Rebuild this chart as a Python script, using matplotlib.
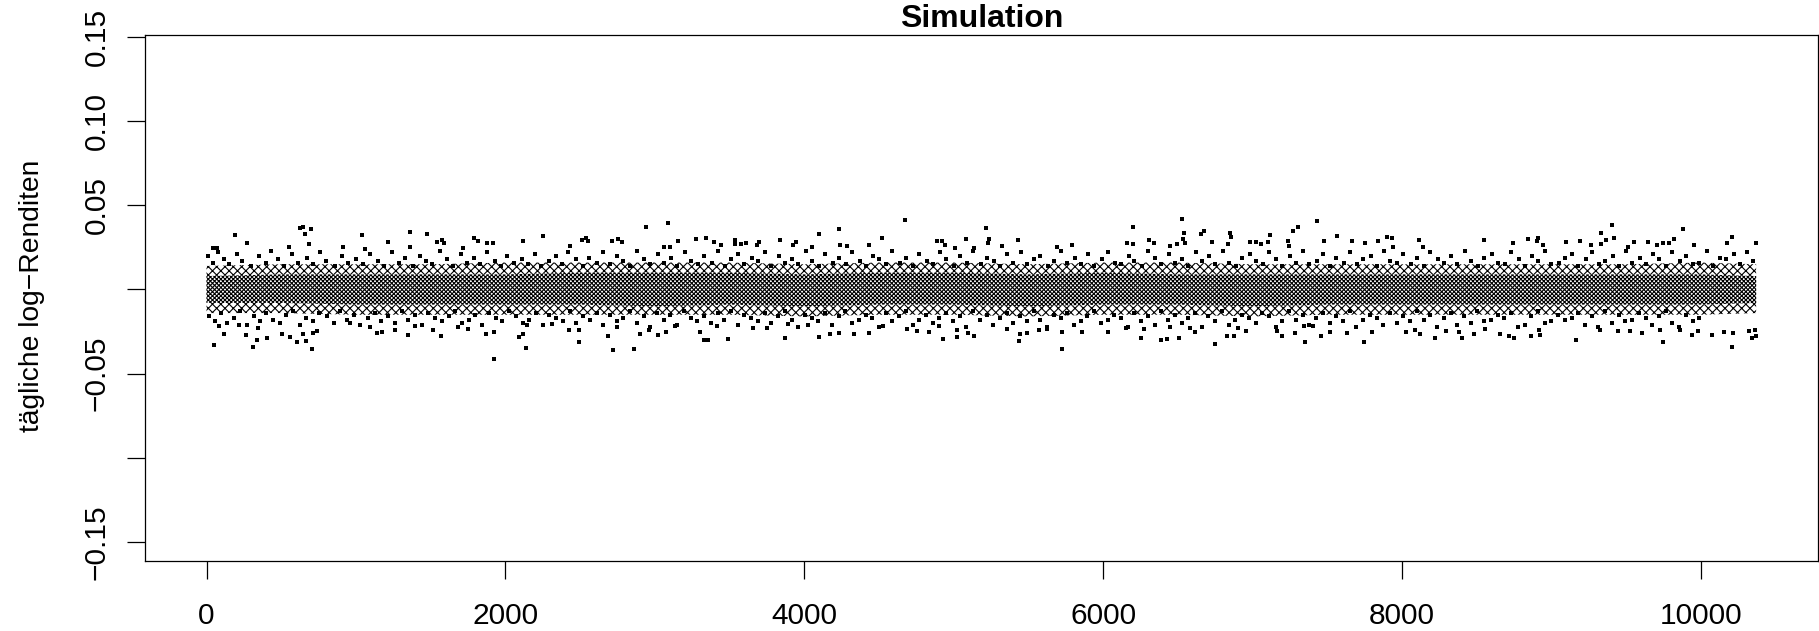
import numpy as np
import matplotlib
matplotlib.use('Agg')
import matplotlib.pyplot as plt

plt.rcParams['font.family'] = ['Liberation Sans', 'DejaVu Sans']
plt.rcParams['hatch.linewidth'] = 0.8

top_x = [190,648,625,699,659,1042,1363,1477,2253,688,268,1216,1540,1573,1589,1792,1818,1878,1919,2119,554,911,1060,1361,1718,41,72,
         2943,3091,4676,4101,4235,4522,2538,2511,2555,2716,2756,2778,3158,3278,3345,3398,3445,3539,3539,3579,3612,3699,3686,3840,3947,3927,4054,4241,4288,4435,4890,4924,4944,5080,5006,2435,3064,3102,
         5218,6202,6530,7433,7306,7272,6543,6677,6657,6851,6857,7118,7566,7897,5238,5432,6536,6309,5232,6550,6342,6162,6202,6726,6984,7025,7058,7105,7239,7479,7667,7841,7754,5789,5693,5321,5138,6447,6496,6837,7245,
         9407,9882,9334,10210,8912,8845,9421,9367,9822,8116,8551,8906,7931,8745,9095,9193,9555,9648,9749,9789,10369,10177,8946,9267,9334,9514,9956,9708,8143,7942]
top_y = [32.4,37.3,36.4,35.8,32.8,32.2,34,32.8,31.8,26.8,27.4,28,28.4,29.4,27.4,30.4,28.8,27.4,27.4,28.6,25,25,24,25,24.5,24.5,24.5,
         37,39.3,41.1,32.8,35.8,30.8,30.8,29.2,28.6,28.6,29.8,28.2,28.6,29.8,30.4,28,26.2,29.2,26.8,26.8,27.4,28,26.2,29.2,28,26.2,25,26.2,25.6,26.2,28.6,28.6,26.2,29.8,24.5,26,25.4,25.2,
         36.3,37,41.7,40.5,37,34.6,33.4,34.6,32.8,33.4,31,32.2,31.6,31,29.8,29.2,29.8,29.2,27.4,27.4,27.4,27.8,26.8,28,28,28,26.8,28,28.6,28.6,28.6,28.6,27.4,26.2,25.4,25.6,24.5,26,26.8,26.8,25.6,
         38.1,35.8,33.4,31,30.8,29.8,30.4,29.2,30,29.2,29.2,28.6,30.4,27.4,28,28.6,28,28,27.4,27.4,27.4,27.4,26.2,26.2,26.8,25,26.2,26.2,25,25.4]
low_x = [52,313,708,1923,2139,119,262,340,407,507,558,607,663,643,714,741,86,219,347,1138,1176,1350,1566,1870,1925,2093,2119,960,1094,1261,1395,1517,1685,1751,2142,
         2495,2723,2863,2689,2495,2428,2903,2963,3024,3077,3331,3358,3492,3305,3659,3753,3871,4101,4174,4235,4335,4435,4690,4756,4837,4930,5020,5020,5098,4904,4529,2315,2749,3137,3414,3893,4027,
         5727,5439,6750,7352,7747,6389,6429,6509,6255,5138,5446,5493,5727,5861,6034,6616,6831,6877,6958,7198,7285,7460,7520,7629,7801,5573,5359,5626,6155,6275,6447,6581,6904,7161,7346,7406,
         10210,9749,9167,8223,8404,8752,8123,8029,8089,8297,8384,8484,8658,8718,8866,8926,8919,8558,9327,9448,9528,9608,9729,9862,9943,9983,10076,10157,10217,10319,10339,10366,10364]
low_y = [-33.2,-34.4,-35.5,-41.5,-35,-26.6,-27.2,-30.2,-29,-26.6,-28.4,-31.4,-30.6,-26.6,-26,-24.5,-21.9,-21.3,-23,-26,-25.5,-27.2,-27.8,-26.6,-25.5,-28.4,-26.6,-20,-22.5,-24,-21.7,-24,-22.5,-23.7,-21,
         -31.4,-36.1,-35.5,-27.8,-24,-24.3,-26.6,-24.3,-27.2,-25.5,-30.2,-30.2,-29.6,-25.5,-23,-23,-28.6,-28.4,-26.6,-26,-26.6,-26,-23.7,-24.9,-25.5,-29.6,-28.4,-24.3,-26,-21.9,-21.7,-20.7,-22.5,-21.9,-21.9,-20.7,-21.3,
         -35.5,-30.8,-32.6,-31.4,-31.4,-30.2,-29.6,-29,-29,-27.8,-26.6,-26,-25.5,-25.5,-25.5,-25.5,-27.8,-27.8,-24.9,-27.8,-26,-27.8,-25.5,-26,-25.5,-24.3,-23.7,-23.7,-23,-23.7,-22.5,-23,-23,-24.9,-21.7,-21.7,
         -34.4,-31.4,-30.2,-29,-29,-29,-26.6,-25.5,-24.3,-24.9,-25.5,-26.6,-26.6,-27.8,-27.8,-27.2,-24.3,-23.7,-24.3,-24.9,-24.9,-26,-24.3,-24.3,-27.2,-24.9,-27.2,-25.5,-26,-24.9,-29,-27.8,-24.3]

# shoulders of the band, rough estimates by eye, thousandths
upper_x = [10,45,80,120,150,205,240,300,350,395,430,480,520,575,610,670,710,760,800,860,905,950,1000,1050,1095,1150,1190,1240,1290,1330,1385,1430,1470,1510,1560,1610,1650,1700,1745,1790,1830,1880,1930,1970,2010,2060,2110,2150,2200,2240,2290,2340,2380,2420,2470,2520,2560,2610,2650,2700,2745,2790,2835,2880,2930,2970,3020,3060,3110,3150,3200,3240,3290,3330,3380,3420,3470,3510,3560,3600,3650,3690,3740,3780,3830,3870,3920,3960,4010,4050,4100,4140,4190,4230,4280,4320,4370,4410,4460,4500,4550,4590,4640,4680,4730,4770,4820,4860,4910,4950,5000,5040,5090,5130,5180,5220,5270,5310,5360,5400,5450,5490,5540,5580,5630,5670,5720,5760,5810,5850,5900,5940,5990,6030,6080,6120,6170,6210,6260,6300,6350,6390,6440,6480,6530,6570,6620,6660,6710,6750,6800,6840,6890,6930,6980,7020,7070,7110,7160,7200,7250,7290,7340,7380,7430,7470,7520,7560,7610,7650,7700,7740,7790,7830,7880,7920,7970,8010,8060,8100,8150,8190,8240,8280,8330,8370,8420,8460,8510,8550,8600,8640,8690,8730,8780,8820,8870,8910,8960,9000,9050,9090,9140,9180,9230,9270,9320,9360,9410,9450,9500,9540,9590,9630,9680,9720,9770,9810,9860,9900,9950,9990,10040,10080,10130,10170,10220,10260,10310,10350]
upper_y = [20,16,22,18,15,21,17,14,20,16,23,18,14,21,16,19,15,22,17,14,20,16,18,15,21,17,14,22,16,19,14,20,17,15,23,18,14,21,16,19,15,22,17,14,20,16,18,15,21,14,17,20,15,22,18,14,19,16,22,15,20,17,14,23,18,15,21,16,19,14,22,17,15,20,16,23,14,18,21,15,19,17,22,14,20,16,18,15,23,17,14,21,16,19,15,22,17,14,20,18,15,23,16,19,14,21,17,15,22,18,14,20,16,23,15,19,17,14,21,16,22,15,18,20,14,17,23,16,19,15,21,14,18,22,16,15,20,17,14,23,19,15,21,16,18,14,22,17,20,15,23,16,14,19,21,17,15,22,18,14,20,16,23,15,17,21,14,19,16,22,15,18,20,14,23,17,16,21,15,19,14,22,18,16,20,15,23,17,14,19,21,16,15,22,18,14,20,17,23,15,16,19,21,14,18,22,15,17,20,14,23,16,19,15,21,18,14,22,17,20,15,16,23,14,19,18,21,15,22,17,14,20,16,23,15,19,21]
lower_x = [20,60,100,140,185,225,270,315,360,400,445,490,535,580,625,665,715,755,805,850,895,940,990,1030,1080,1125,1170,1215,1260,1305,1350,1395,1440,1485,1530,1575,1620,1665,1710,1755,1800,1845,1890,1935,1980,2025,2070,2115,2160,2205,2250,2295,2340,2385,2430,2475,2520,2565,2610,2655,2700,2745,2790,2835,2880,2925,2970,3015,3060,3105,3150,3195,3240,3285,3330,3375,3420,3465,3510,3555,3600,3645,3690,3735,3780,3825,3870,3915,3960,4005,4050,4095,4140,4185,4230,4275,4320,4365,4410,4455,4500,4545,4590,4635,4680,4725,4770,4815,4860,4905,4950,4995,5040,5085,5130,5175,5220,5265,5310,5355,5400,5445,5490,5535,5580,5625,5670,5715,5760,5805,5850,5895,5940,5985,6030,6075,6120,6165,6210,6255,6300,6345,6390,6435,6480,6525,6570,6615,6660,6705,6750,6795,6840,6885,6930,6975,7020,7065,7110,7155,7200,7245,7290,7335,7380,7425,7470,7515,7560,7605,7650,7695,7740,7785,7830,7875,7920,7965,8010,8055,8100,8145,8190,8235,8280,8325,8370,8415,8460,8505,8550,8595,8640,8685,8730,8775,8820,8865,8910,8955,9000,9045,9090,9135,9180,9225,9270,9315,9360,9405,9450,9495,9540,9585,9630,9675,9720,9765,9810,9855,9900,9945,9990,10035,10080,10125,10170,10215,10260,10305,10350]
lower_y = [-16,-19,-14,-20,-17,-13,-21,-16,-19,-14,-18,-20,-15,-13,-21,-17,-19,-14,-16,-20,-13,-18,-15,-21,-17,-14,-19,-16,-20,-13,-18,-15,-21,-14,-17,-19,-16,-13,-20,-18,-15,-21,-14,-17,-19,-13,-16,-20,-18,-14,-21,-15,-17,-19,-13,-20,-16,-18,-14,-21,-15,-19,-17,-13,-20,-16,-22,-14,-18,-15,-21,-13,-17,-19,-16,-20,-14,-18,-13,-21,-15,-17,-19,-14,-20,-16,-13,-18,-22,-15,-17,-19,-14,-21,-16,-13,-20,-18,-15,-17,-22,-14,-19,-16,-13,-21,-18,-15,-20,-17,-14,-19,-16,-22,-13,-18,-15,-21,-17,-14,-20,-16,-19,-13,-18,-22,-15,-17,-14,-21,-19,-16,-13,-20,-18,-15,-17,-22,-14,-19,-16,-21,-13,-18,-15,-20,-17,-14,-22,-16,-19,-13,-21,-18,-15,-17,-20,-14,-16,-22,-19,-13,-18,-15,-21,-17,-14,-20,-16,-19,-13,-22,-18,-15,-17,-21,-14,-20,-16,-19,-13,-18,-15,-22,-17,-14,-21,-16,-20,-13,-19,-18,-15,-17,-14,-22,-21,-16,-13,-20,-19,-15,-18,-17,-14,-21,-16,-22,-13,-20,-15,-19,-18,-14,-17,-21,-16,-13,-20,-22,-15,-19,-17]

# edges of the band read every 500 days: dense core and the looser ring round it
band_x = [0,500,1000,1500,2000,2500,3000,3500,4000,4500,5000,5500,6000,6500,7000,7500,8000,8500,9000,9500,10000,10370]
core_hi = [8,9,9,9,9,10,10,10,9,10,10,9,10,9,9,9,9,9,9,9,9,8]
core_lo = [-8,-8,-9,-9,-9,-9,-10,-9,-10,-9,-9,-10,-9,-9,-10,-9,-9,-9,-9,-9,-9,-8]
ring_hi = [14,15,15,15,16,16,16,16,15,16,16,15,16,16,15,15,15,15,15,15,16,15]
ring_lo = [-14,-14,-15,-15,-15,-15,-15,-15,-16,-15,-15,-16,-15,-15,-16,-15,-15,-15,-15,-15,-15,-14]

x_ticks = [0,2000,4000,6000,8000,10000]
y_ticks = [0.15,0.10,0.05,0,-0.05,-0.10,-0.15]
y_labels = ['0.15','0.10','0.05','','\u22120.05','','\u22120.15']

fig = plt.figure(figsize=(18.19,6.31),dpi=100)
ax = fig.add_axes([145/1819,1-561/631,(1818-145)/1819,(561-35)/631])

bx = np.array(band_x)
ax.fill_between(bx,np.array(ring_hi)/1000,np.array(ring_lo)/1000,facecolor='white',edgecolor='black',hatch='xxxx',linewidth=0)
ax.fill_between(bx,np.array(core_hi)/1000,np.array(core_lo)/1000,facecolor='white',edgecolor='black',hatch='xxxxxxxx',linewidth=0)
for xs,ys in [(top_x,top_y),(low_x,low_y),(upper_x,upper_y),(lower_x,lower_y)]:
    # the by-eye lists came out a few entries apart, keep the pairs that line up
    n = min(len(xs),len(ys))
    ax.plot(xs[:n],np.array(ys[:n])/1000,ls='none',marker='s',ms=2.5,mew=0,color='black')

ax.set_xlim(-411.6,10784)
ax.set_ylim(-0.1613,0.1512)
ax.set_xticks(x_ticks)
ax.set_yticks(y_ticks)
ax.set_yticklabels(y_labels,rotation=90,va='center')
ax.tick_params(axis='both',length=12.7,width=0.9,labelsize=21.5)
ax.tick_params(axis='x',pad=17)
ax.tick_params(axis='y',pad=12)
for s in ax.spines.values():
    s.set_linewidth(0.9)
ax.set_title('Simulation',fontsize=23,fontweight='bold',pad=5.5)
fig.text(32/1819,1-296/631,'t\u00e4gliche log\u2212Renditen',rotation=90,ha='center',va='center',fontsize=20.3)

fig.savefig('out.png',dpi=100)
